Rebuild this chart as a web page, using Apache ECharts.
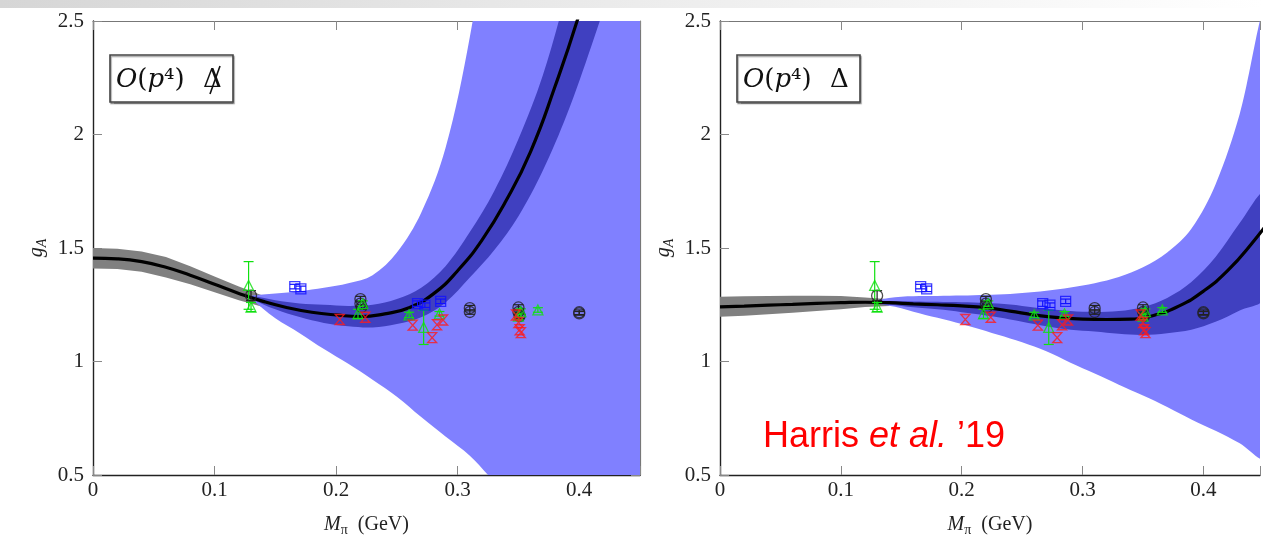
<!DOCTYPE html>
<html>
<head>
<meta charset="utf-8">
<script src="https://cdn.jsdelivr.net/npm/echarts@6/dist/echarts.min.js"></script>
<style>
html, body { margin: 0; padding: 0; background: #fff; }
#main { width: 1263px; height: 543px; }
</style>
</head>
<body>
<div id="main"></div>
<script>
// ---- fit curves (M_pi in GeV, g_A) ----
var curveX = [0, 0.02, 0.04, 0.06, 0.08, 0.10, 0.12, 0.14, 0.16, 0.18, 0.20, 0.22, 0.24, 0.26, 0.28, 0.30, 0.32, 0.34, 0.36, 0.38, 0.40, 0.42, 0.44, 0.46];
var leftCurve = [1.455, 1.452, 1.44, 1.415, 1.38, 1.34, 1.30, 1.265, 1.237, 1.217, 1.205, 1.198, 1.21, 1.237, 1.298, 1.40, 1.535, 1.71, 1.925, 2.21, 2.53, 2.9, 3.3, 3.7];
var rightCurve = [1.241, 1.244, 1.248, 1.252, 1.256, 1.259, 1.261, 1.259, 1.254, 1.25, 1.245, 1.237, 1.222, 1.205, 1.193, 1.187, 1.185, 1.187, 1.205, 1.245, 1.31, 1.40, 1.52, 1.66];

// gray band (chiral extrapolation)
var grayX = [0, 0.02, 0.04, 0.06, 0.08, 0.10, 0.12, 0.14];
var leftGrayUp = [1.50, 1.497, 1.485, 1.46, 1.42, 1.375, 1.33, 1.29];
var leftGrayLo = [1.41, 1.407, 1.395, 1.37, 1.34, 1.305, 1.27, 1.24];
var rightGrayUp = [1.285, 1.287, 1.289, 1.29, 1.29, 1.288, 1.282, 1.274];
var rightGrayLo = [1.197, 1.202, 1.208, 1.215, 1.222, 1.23, 1.24, 1.245];

// blue bands
var bandX = [0.13, 0.15, 0.17, 0.19, 0.21, 0.23, 0.25, 0.27, 0.29, 0.31, 0.33, 0.35, 0.37, 0.39, 0.41, 0.43, 0.45];
var leftLightUp = [1.29, 1.30, 1.31, 1.325, 1.345, 1.38, 1.48, 1.655, 1.94, 2.43, 3.1, 3.8, 4.5, 5.2, 6.0, 6.8, 7.6];
var leftLightLo = [1.28, 1.19, 1.125, 1.055, 0.99, 0.92, 0.845, 0.755, 0.67, 0.585, 0.47, 0.35, 0.22, 0.1, -0.03, -0.16, -0.3];
var leftDarkUp = [1.288, 1.27, 1.256, 1.25, 1.245, 1.25, 1.275, 1.325, 1.42, 1.57, 1.75, 1.98, 2.26, 2.63, 3.0, 3.4, 3.8];
var leftDarkLo = [1.278, 1.23, 1.196, 1.17, 1.155, 1.15, 1.165, 1.195, 1.26, 1.37, 1.49, 1.64, 1.84, 2.09, 2.39, 2.72, 3.1];
var rightLightUp = [1.27, 1.285, 1.288, 1.29, 1.292, 1.295, 1.302, 1.312, 1.326, 1.345, 1.372, 1.415, 1.48, 1.585, 1.78, 2.09, 2.52];
var rightLightLo = [1.258, 1.235, 1.205, 1.18, 1.15, 1.118, 1.085, 1.045, 0.995, 0.947, 0.898, 0.85, 0.80, 0.745, 0.695, 0.64, 0.58];
var rightDarkUp = [1.266, 1.265, 1.263, 1.262, 1.26, 1.255, 1.245, 1.232, 1.222, 1.218, 1.222, 1.24, 1.28, 1.35, 1.46, 1.61, 1.74];
var rightDarkLo = [1.258, 1.245, 1.235, 1.225, 1.21, 1.195, 1.175, 1.155, 1.14, 1.132, 1.122, 1.117, 1.125, 1.14, 1.175, 1.225, 1.28];

// lattice points [M_pi, g_A, error]
var blackPts = [[0.13, 1.29, 0.022], [0.22, 1.275, 0.012], [0.22, 1.255, 0.012], [0.221, 1.24, 0.01], [0.31, 1.235, 0.012], [0.31, 1.218, 0.01], [0.35, 1.238, 0.012], [0.35, 1.218, 0.012], [0.351, 1.2, 0.01], [0.40, 1.217, 0.01], [0.40, 1.212, 0.008]];
var bluePts = [[0.166, 1.33, 0.01], [0.171, 1.32, 0.012], [0.267, 1.255, 0.012], [0.273, 1.248, 0.01], [0.286, 1.265, 0.01]];
var greenPts = [[0.128, 1.335, 0.105], [0.13, 1.24, 0.02], [0.218, 1.21, 0.02], [0.222, 1.255, 0.012], [0.26, 1.205, 0.012], [0.272, 1.15, 0.075], [0.285, 1.21, 0.01], [0.35, 1.2, 0.015], [0.352, 1.22, 0.012], [0.366, 1.227, 0.01]];
var redPts = [[0.203, 1.185], [0.224, 1.195], [0.263, 1.16], [0.279, 1.105], [0.283, 1.162], [0.288, 1.183], [0.348, 1.205], [0.35, 1.172], [0.351, 1.14], [0.352, 1.127]];

var xTicks = ['0', '0.1', '0.2', '0.3', '0.4'];
var yTicks = ['0.5', '1', '1.5', '2', '2.5'];
var xMax = [0.45, 0.4468]; // right panel is cut by the slide edge

var serif = '"Liberation Serif", "DejaVu Serif", serif';
var myChart = echarts.init(document.getElementById('main'));

function pairs(xs, ys) {
  return xs.map(function (x, i) { return [x, ys[i]]; });
}

// filled band between lo and up, drawn as one polygon through the axis scales
function band(gi, xs, lo, up, color, smooth) {
  return {
    type: 'custom', xAxisIndex: gi * 2, yAxisIndex: gi * 2, clip: true, silent: true, z: 1,
    data: pairs(xs, lo),
    encode: { x: 0, y: 1 },
    renderItem: function (params, api) {
      if (params.dataIndex !== 0) return null;
      var pts = [];
      for (var i = 0; i < xs.length; i++) pts.push(api.coord([xs[i], up[i]]));
      for (var j = xs.length - 1; j >= 0; j--) pts.push(api.coord([xs[j], lo[j]]));
      return { type: 'polygon', shape: { points: pts, smooth: smooth }, style: { fill: color } };
    }
  };
}

function errorBars(gi, pts, color) {
  return {
    type: 'custom', xAxisIndex: gi * 2, yAxisIndex: gi * 2, z: 4, silent: true,
    data: pts,
    encode: { x: 0, y: 1 },
    renderItem: function (params, api) {
      var x = api.value(0), y = api.value(1), e = api.value(2);
      var t = api.coord([x, y + e]), b = api.coord([x, y - e]);
      var st = { stroke: color, lineWidth: 1.2, fill: null };
      return {
        type: 'group', children: [
          { type: 'line', shape: { x1: t[0], y1: t[1], x2: b[0], y2: b[1] }, style: st },
          { type: 'line', shape: { x1: t[0] - 5, y1: t[1], x2: t[0] + 5, y2: t[1] }, style: st },
          { type: 'line', shape: { x1: b[0] - 5, y1: b[1], x2: b[0] + 5, y2: b[1] }, style: st }
        ]
      };
    }
  };
}

function markers(gi, pts, symbol, color, size) {
  return {
    type: 'scatter', xAxisIndex: gi * 2, yAxisIndex: gi * 2, z: 5, silent: true,
    data: pts.map(function (p) { return [p[0], p[1]]; }),
    symbol: symbol, symbolSize: size,
    itemStyle: { color: 'rgba(0,0,0,0)', borderColor: color, borderWidth: 1.3 }
  };
}

function panel(gi, curve, gUp, gLo, lUp, lLo, dUp, dLo) {
  var s = [];
  s.push(band(gi, grayX, gLo, gUp, '#808080', 0));
  s.push(band(gi, bandX, lLo, lUp, '#8080ff', 0.35));
  s.push(band(gi, bandX, dLo, dUp, '#4040c0', 0.35));
  s.push({
    type: 'line', xAxisIndex: gi * 2, yAxisIndex: gi * 2, data: pairs(curveX, curve),
    symbol: 'none', smooth: true, lineStyle: { color: '#000', width: 3.2 }, z: 3, silent: true
  });
  s.push(errorBars(gi, blackPts, '#222'));
  s.push(errorBars(gi, bluePts, '#1010ff'));
  s.push(errorBars(gi, greenPts, '#10e010'));
  s.push(markers(gi, blackPts, 'circle', '#222', 11));
  s.push(markers(gi, bluePts, 'rect', '#1010ff', 10));
  s.push(markers(gi, greenPts, 'triangle', '#10e010', 10));
  s.push(markers(gi, redPts, 'path://M0,0L10,0L0,10L10,10Z', '#ff1a1a', [9, 10]));
  return s;
}

function xAxes(gi) {
  return [{
    type: 'value', gridIndex: gi, position: 'bottom', min: 0, max: xMax[gi], interval: 0.1,
    name: '{i|M}{s|π}  (GeV)', nameLocation: 'middle', nameGap: 38,
    nameTextStyle: {
      fontFamily: serif, fontSize: 20, color: '#222', lineHeight: 24,
      rich: {
        i: { fontFamily: serif, fontStyle: 'italic', fontSize: 20, lineHeight: 24 },
        s: { fontFamily: serif, fontSize: 14, lineHeight: 12, verticalAlign: 'bottom' }
      }
    },
    axisLine: { show: true, onZero: false, lineStyle: { color: '#222', width: 1.4 } },
    axisTick: { show: true, inside: true, length: 9, lineStyle: { color: '#888' } },
    axisLabel: {
      fontFamily: serif, fontSize: 21, color: '#222', margin: 5,
      formatter: function (v) {
        var k = Math.round(v * 10);
        return Math.abs(v * 10 - k) < 1e-6 && xTicks[k] ? xTicks[k] : '';
      }
    },
    splitLine: { show: false }
  }, {
    type: 'value', gridIndex: gi, position: 'top', min: 0, max: xMax[gi], interval: 0.1,
    axisLine: { show: true, onZero: false, lineStyle: { color: '#777', width: 1.2 } },
    axisTick: { show: true, inside: true, length: 9, lineStyle: { color: '#888' } },
    axisLabel: { show: false }, splitLine: { show: false }
  }];
}

function yAxes(gi) {
  return [{
    type: 'value', gridIndex: gi, position: 'left', min: 0.5, max: 2.5, interval: 0.5,
    name: '{i|g}{s|A}', nameLocation: 'middle', nameGap: 44, nameRotate: 90,
    nameTextStyle: {
      fontFamily: serif, fontSize: 20, color: '#222', lineHeight: 24,
      rich: {
        i: { fontFamily: serif, fontStyle: 'italic', fontSize: 20, lineHeight: 24 },
        s: { fontFamily: serif, fontStyle: 'italic', fontSize: 14, lineHeight: 12, verticalAlign: 'bottom' }
      }
    },
    axisLine: { show: true, onZero: false, lineStyle: { color: '#222', width: 1.4 } },
    axisTick: { show: true, inside: true, length: 9, lineStyle: { color: '#888' } },
    axisLabel: {
      fontFamily: serif, fontSize: 21, color: '#222', margin: 9,
      formatter: function (v) { return yTicks[Math.round((v - 0.5) * 2)] || ''; }
    },
    splitLine: { show: false }
  }, {
    type: 'value', gridIndex: gi, position: 'right', min: 0.5, max: 2.5, interval: 0.5,
    show: gi === 0,
    axisLine: { show: true, onZero: false, lineStyle: { color: '#777', width: 1.2 } },
    axisTick: { show: true, inside: true, length: 9, lineStyle: { color: '#888' } },
    axisLabel: { show: false }, splitLine: { show: false }
  }];
}

function legendBox(x, dx, slashed) {
  var els = [{
    type: 'rect', shape: { x: x, y: 55, width: 123, height: 47 },
    style: { fill: '#fff', stroke: '#444', lineWidth: 1.6, shadowColor: 'rgba(0,0,0,0.35)', shadowOffsetX: 1, shadowOffsetY: 1.5, shadowBlur: 1 },
    z: 10
  }, {
    type: 'text', z: 11,
    style: {
      x: x + 6, y: 80, text: '{c|O}({i|p}⁴)', fill: '#111', verticalAlign: 'middle',
      font: '26px "DejaVu Serif"',
      rich: {
        c: { fontFamily: 'DejaVu Serif', fontStyle: 'italic', fontSize: 26 },
        i: { fontFamily: 'DejaVu Serif', fontStyle: 'italic', fontSize: 26 }
      }
    }
  }, {
    type: 'text', z: 11,
    style: { x: x + dx, y: 80, text: 'Δ', fill: '#111', verticalAlign: 'middle', font: '26px "DejaVu Serif"' }
  }];
  if (slashed) {
    els.push({
      type: 'line', z: 12, shape: { x1: x + dx + 17, y1: 66, x2: x + dx + 7, y2: 94 },
      style: { stroke: '#111', lineWidth: 1.6 }
    });
  }
  return els;
}

var option = {
  animation: false,
  backgroundColor: '#fff',
  grid: [
    { left: 93, top: 21, width: 547, height: 454 },
    { left: 720, top: 21, width: 543, height: 454 }
  ],
  xAxis: xAxes(0).concat(xAxes(1)),
  yAxis: yAxes(0).concat(yAxes(1)),
  graphic: [{
    type: 'rect', shape: { x: 0, y: 0, width: 1263, height: 8 }, z: 0,
    style: {
      fill: new echarts.graphic.LinearGradient(0, 0, 1, 0, [
        { offset: 0, color: '#d6d6d6' }, { offset: 0.55, color: '#eeeeee' }, { offset: 1, color: '#ffffff' }
      ])
    }
  }].concat(legendBox(110, 93, true)).concat(legendBox(737, 93, false)).concat([{
    type: 'text', z: 11,
    style: {
      x: 763, y: 437, text: 'Harris {it|et al.} ’19', fill: '#ff0000', verticalAlign: 'middle',
      font: '36px "Liberation Sans", Arial, sans-serif',
      rich: { it: { fontFamily: '"Liberation Sans", Arial, sans-serif', fontStyle: 'italic', fontSize: 36 } }
    }
  }]),
  series: panel(0, leftCurve, leftGrayUp, leftGrayLo, leftLightUp, leftLightLo, leftDarkUp, leftDarkLo)
    .concat(panel(1, rightCurve, rightGrayUp, rightGrayLo, rightLightUp, rightLightLo, rightDarkUp, rightDarkLo))
};

myChart.setOption(option);
</script>
</body>
</html>
